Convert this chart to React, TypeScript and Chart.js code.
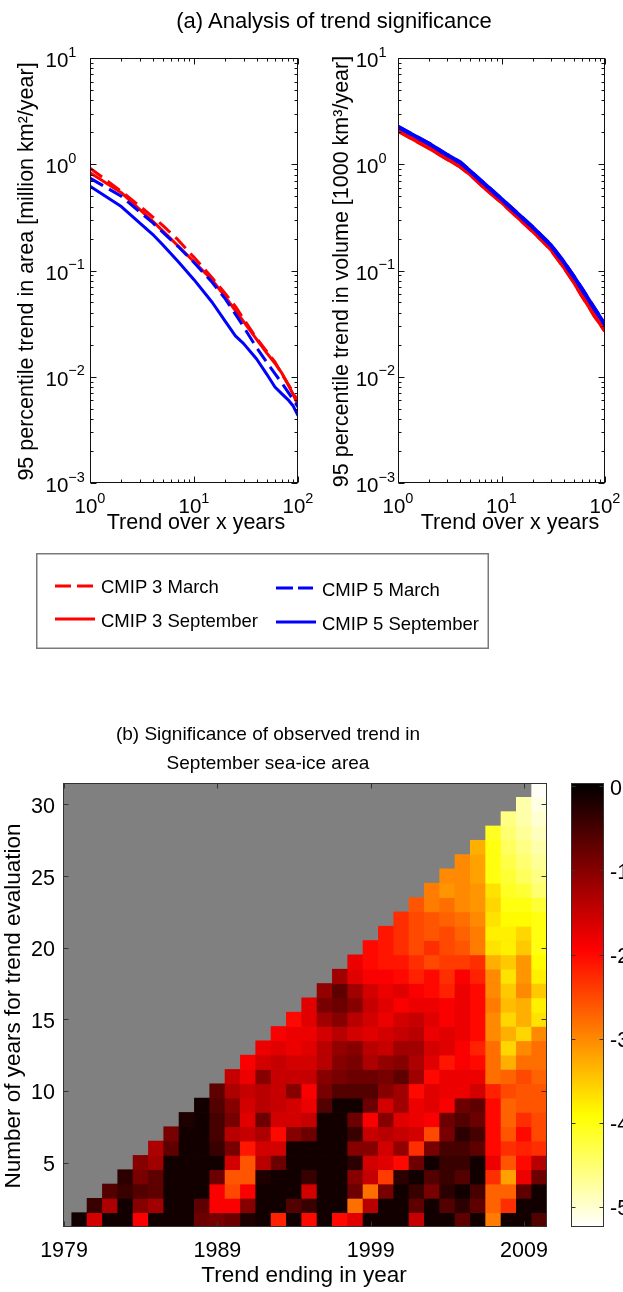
import React, { useEffect, useRef } from "react";
import { Chart, registerables } from "chart.js";

Chart.register(...registerables);

const FONT = "'Liberation Sans', Arial, Helvetica, sans-serif";

// ---------------- Panel (a) data ----------------
const trendYears = [1, 2, 3, 4, 5, 7, 10, 15, 20, 25, 30, 40, 50, 60, 70, 80, 90, 100];
const areaCmip3March = [0.92, 0.555, 0.405, 0.32, 0.266, 0.195, 0.133, 0.085, 0.0605, 0.046, 0.035, 0.023, 0.0173, 0.0138, 0.0106, 0.0086, 0.0071, 0.0058];
const areaCmip3September = [0.83, 0.54, 0.377, 0.292, 0.236, 0.171, 0.121, 0.081, 0.0564, 0.042, 0.033, 0.0225, 0.0168, 0.0134, 0.0108, 0.0085, 0.0068, 0.0054];
const areaCmip5March = [0.74, 0.5, 0.357, 0.282, 0.23, 0.169, 0.119, 0.077, 0.054, 0.0388, 0.0295, 0.0188, 0.0137, 0.0107, 0.0087, 0.0072, 0.0061, 0.0052];
const areaCmip5September = [0.62, 0.4, 0.281, 0.219, 0.175, 0.122, 0.082, 0.05, 0.0332, 0.0242, 0.0205, 0.0147, 0.0106, 0.008, 0.0069, 0.0061, 0.0053, 0.0043];
const volumeCmip3 = [2.07, 1.42, 1.12, 0.95, 0.8, 0.59, 0.44, 0.305, 0.235, 0.19, 0.158, 0.108, 0.078, 0.058, 0.046, 0.037, 0.0315, 0.027];
const volumeCmip5 = [2.25, 1.56, 1.22, 1.04, 0.86, 0.64, 0.47, 0.33, 0.256, 0.206, 0.173, 0.12, 0.0875, 0.0667, 0.0528, 0.043, 0.0361, 0.031];
const logXLimits = [1, 100];
const logYLimits = [0.001, 10];

// ---------------- Panel (b) data ----------------
const endYears = [1980, 1981, 1982, 1983, 1984, 1985, 1986, 1987, 1988, 1989, 1990, 1991, 1992, 1993, 1994, 1995, 1996, 1997, 1998, 1999, 2000, 2001, 2002, 2003, 2004, 2005, 2006, 2007, 2008, 2009, 2010];
const trendLengths = [1, 2, 3, 4, 5, 6, 7, 8, 9, 10, 11, 12, 13, 14, 15, 16, 17, 18, 19, 20, 21, 22, 23, 24, 25, 26, 27, 28, 29, 30, 31];
const yearTicks = [1979, 1989, 1999, 2009];
const lengthTicks = [5, 10, 15, 20, 25, 30];
const colorbarTicks = [0, -1, -2, -3, -4, -5];
const colorLimits = [-5.24, 0.04];
const yearAxisLimits = [1978.93, 2010.5];
const lengthAxisLimits = [0.5, 31.5];
// row i = trend length trendLengths[i]; first value belongs to endYears[i]
const significanceRows = [
  [-0.1, -1.6, -0.1, -0.1, -1.9, -0.1, -0.1, -0.1, -0.8, -0.9, -0.8, -0.2, -0.1, -2.2, -0.1, -2.0, -0.1, -2.0, -1.7, -0.1, -0.1, -0.1, -1.5, -0.1, -0.1, -0.7, -0.1, -2.9, -0.1, -0.1, -0.6],
  [-0.4, -1.3, -0.1, -1.0, -1.2, -0.1, -0.1, -0.7, -1.9, -1.9, -1.0, -0.1, -0.1, -0.6, -0.4, -0.1, -0.1, -2.8, -1.4, -0.1, -0.1, -0.7, -0.1, -0.6, -0.3, -0.7, -2.7, -2.3, -0.1, -0.1],
  [-0.6, -0.4, -0.6, -0.7, -0.1, -0.1, -0.1, -1.9, -2.5, -1.9, -0.1, -0.1, -0.1, -1.6, -0.1, -0.1, -0.8, -2.8, -0.9, -0.1, -0.4, -0.9, -0.3, -0.1, -0.5, -2.7, -2.7, -0.7, -0.1],
  [-0.3, -0.9, -0.7, -0.1, -0.1, -0.1, -0.8, -2.6, -2.6, -0.2, -0.1, -0.1, -0.4, -0.1, -0.1, -1.0, -1.5, -2.4, -0.3, -0.1, -0.6, -0.4, -0.6, -0.1, -2.3, -3.2, -1.8, -0.8],
  [-1.0, -1.2, -0.1, -0.1, -0.1, -0.1, -1.6, -2.6, -1.4, -0.8, -0.1, -0.1, -0.1, -0.1, -0.3, -1.6, -1.7, -2.0, -0.8, -0.1, -0.4, -0.4, -0.1, -1.8, -2.6, -2.0, -1.4],
  [-1.3, -0.7, -0.1, -0.1, -0.4, -0.9, -2.1, -1.6, -1.6, -0.1, -0.1, -0.1, -0.1, -1.0, -1.0, -1.6, -1.1, -2.3, -0.9, -0.5, -0.5, -0.7, -2.0, -2.3, -2.2, -2.3],
  [-0.9, -0.1, -0.1, -0.5, -1.4, -1.5, -1.3, -2.0, -1.0, -0.8, -0.1, -0.1, -0.4, -1.5, -1.4, -1.5, -1.6, -2.5, -0.9, -0.3, -0.5, -2.0, -2.6, -2.0, -2.5],
  [-0.2, -0.1, -0.5, -0.9, -1.7, -0.8, -1.6, -1.6, -1.5, -0.1, -0.1, -0.8, -1.9, -1.0, -1.7, -1.8, -1.9, -0.8, -0.6, -0.8, -2.0, -2.7, -2.3, -2.5],
  [-0.1, -0.6, -1.0, -1.6, -1.4, -1.5, -1.6, -1.8, -0.6, -0.1, -0.1, -0.8, -1.6, -1.2, -1.8, -1.7, -1.9, -0.8, -0.7, -2.0, -2.7, -2.6, -2.6],
  [-0.7, -1.3, -1.5, -1.4, -1.5, -1.0, -1.9, -0.9, -0.6, -0.6, -0.6, -1.0, -1.2, -2.0, -1.7, -1.8, -1.8, -1.6, -2.2, -2.5, -2.6, -2.6],
  [-1.5, -1.8, -1.0, -1.5, -1.5, -1.5, -1.0, -0.9, -0.8, -0.8, -0.9, -0.7, -1.2, -2.0, -1.8, -1.8, -1.8, -2.8, -2.7, -2.5, -2.7],
  [-1.9, -1.6, -1.5, -1.6, -1.6, -1.4, -1.0, -0.9, -1.3, -1.1, -1.0, -1.3, -1.7, -2.1, -1.9, -2.0, -2.8, -3.3, -2.8, -2.8],
  [-1.8, -1.7, -1.8, -1.7, -1.4, -1.1, -1.0, -1.4, -1.5, -1.2, -1.2, -1.6, -1.7, -1.9, -2.2, -2.8, -3.6, -3.0, -2.8],
  [-1.9, -1.8, -1.8, -1.6, -1.4, -1.6, -1.7, -1.6, -1.5, -1.4, -1.8, -1.7, -1.8, -2.0, -3.0, -3.3, -3.6, -3.0],
  [-2.0, -1.7, -1.2, -1.0, -1.4, -1.6, -1.8, -1.6, -1.5, -1.7, -1.9, -1.8, -2.0, -3.0, -3.6, -3.3, -3.7],
  [-1.7, -0.9, -0.8, -1.0, -1.5, -1.7, -1.9, -1.8, -1.8, -1.9, -1.8, -2.0, -2.9, -3.4, -3.3, -3.8],
  [-1.1, -0.7, -1.2, -1.6, -1.8, -1.7, -1.9, -2.0, -2.2, -1.8, -2.0, -3.0, -3.5, -3.0, -3.5],
  [-1.2, -1.7, -1.9, -1.9, -2.0, -2.2, -2.0, -2.3, -1.9, -2.2, -3.0, -3.7, -3.1, -3.8],
  [-1.8, -2.0, -2.1, -2.1, -2.3, -2.5, -2.4, -2.4, -2.3, -3.3, -3.5, -3.1, -3.9],
  [-2.0, -2.1, -2.3, -2.5, -2.3, -2.5, -2.6, -2.9, -3.7, -3.8, -3.5, -4.0],
  [-2.1, -2.3, -2.5, -2.6, -2.5, -2.7, -2.9, -3.8, -3.8, -3.6, -4.0],
  [-2.3, -2.5, -2.6, -2.7, -2.8, -3.0, -3.7, -3.9, -3.9, -4.0],
  [-2.6, -2.9, -2.8, -3.0, -3.1, -3.6, -4.0, -4.0, -4.2],
  [-2.9, -3.1, -3.0, -3.1, -3.7, -4.1, -4.2, -4.5],
  [-3.0, -3.0, -3.2, -4.0, -4.2, -4.4, -4.6],
  [-3.0, -3.2, -4.0, -4.3, -4.5, -4.7],
  [-3.3, -4.0, -4.4, -4.6, -4.8],
  [-4.1, -4.5, -4.7, -4.9],
  [-4.6, -4.8, -5.0],
  [-4.8, -5.1],
  [-5.2],
];

// ---------------- helpers ----------------
const RED = "rgb(255,0,0)";
const BLUE = "rgb(0,0,255)";

function hotColor(v: number): string {
  const t = Math.min(1, Math.max(0, (colorLimits[1] - v) / (colorLimits[1] - colorLimits[0])));
  const r = Math.min(1, t / 0.375);
  const g = Math.min(1, Math.max(0, (t - 0.375) / 0.375));
  const b = Math.min(1, Math.max(0, (t - 0.75) / 0.25));
  return `rgb(${Math.round(r * 255)},${Math.round(g * 255)},${Math.round(b * 255)})`;
}

function lineDataset(label: string, values: number[], color: string, dashed: boolean, width: number, order: number) {
  return {
    label,
    data: trendYears.map((x, i) => ({ x, y: values[i] })),
    borderColor: color,
    backgroundColor: color,
    borderWidth: width,
    borderDash: dashed ? [15, 7] : [],
    borderJoinStyle: "round",
    pointRadius: 0,
    tension: 0,
    fill: false,
    order,
  };
}

function logAxesPlugin(deco: any) {
  return {
    id: "logAxesDeco",
    afterDraw(chart: any) {
      const ctx = chart.ctx;
      const xs = chart.scales.x;
      const ys = chart.scales.y;
      const { left, right, top, bottom } = chart.chartArea;
      const L = Math.round(left) + 0.5;
      const R = Math.round(right) - 0.5;
      const T = Math.round(top) + 0.5;
      const B = Math.round(bottom) - 0.5;
      ctx.save();
      ctx.strokeStyle = "#111";
      ctx.lineWidth = 1;
      ctx.strokeRect(L, T, R - L, B - T);
      ctx.beginPath();
      const decs = (mn: number, mx: number) => {
        const out: number[] = [];
        for (let e = Math.round(Math.log10(mn)); e <= Math.round(Math.log10(mx)); e++) out.push(e);
        return out;
      };
      const xDec = decs(xs.min, xs.max);
      const yDec = decs(ys.min, ys.max);
      xDec.forEach((e) => {
        for (let k = 1; k <= 9; k++) {
          const v = k * Math.pow(10, e);
          if (v > xs.max * 1.0001) break;
          const px = Math.round(xs.getPixelForValue(v)) + 0.5;
          const len = k === 1 ? 6 : 3;
          ctx.moveTo(px, B); ctx.lineTo(px, B - len);
          ctx.moveTo(px, T); ctx.lineTo(px, T + len);
        }
      });
      yDec.forEach((e) => {
        for (let k = 1; k <= 9; k++) {
          const v = k * Math.pow(10, e);
          if (v > ys.max * 1.0001) break;
          const py = Math.round(ys.getPixelForValue(v)) + 0.5;
          const len = k === 1 ? 6 : 3;
          ctx.moveTo(L, py); ctx.lineTo(L + len, py);
          ctx.moveTo(R, py); ctx.lineTo(R - len, py);
        }
      });
      ctx.stroke();

      const baseFont = `20.5px ${FONT}`;
      const expFont = `14.5px ${FONT}`;
      const expText = (e: number) => (e < 0 ? "\u2212" + -e : String(e));
      ctx.fillStyle = "#000";
      ctx.textBaseline = "alphabetic";
      xDec.forEach((e) => {
        const px = xs.getPixelForValue(Math.pow(10, e));
        ctx.font = baseFont;
        const wb = ctx.measureText("10").width;
        ctx.font = expFont;
        const we = ctx.measureText(expText(e)).width;
        const x0 = px - (wb + we) / 2;
        ctx.textAlign = "left";
        ctx.font = baseFont;
        ctx.fillText("10", x0, B + 30);
        ctx.font = expFont;
        ctx.fillText(expText(e), x0 + wb, B + 20);
      });
      yDec.forEach((e) => {
        const py = ys.getPixelForValue(Math.pow(10, e));
        const xr = left - deco.yLabelGap;
        ctx.font = baseFont;
        ctx.textAlign = "right";
        ctx.fillText("10", xr, py + 9);
        ctx.font = expFont;
        ctx.textAlign = "left";
        ctx.fillText(expText(e), xr, py - 1.5);
      });

      ctx.font = `21.5px ${FONT}`;
      ctx.textAlign = "center";
      ctx.fillText(deco.xTitle, deco.xTitleX, B + 46);
      ctx.save();
      ctx.translate(deco.yTitleX, (top + bottom) / 2 + 1);
      ctx.rotate(-Math.PI / 2);
      ctx.fillText(deco.yTitle, 0, 0);
      ctx.restore();
      ctx.restore();
    },
  };
}

function makeLogConfig(datasets: any[], deco: any) {
  return {
    type: "line",
    data: { datasets },
    options: {
      responsive: false,
      animation: false,
      devicePixelRatio: 1,
      events: [],
      layout: { padding: { left: 0, top: deco.padTop, right: deco.padRight, bottom: 0 } },
      plugins: { legend: { display: false }, tooltip: { enabled: false }, title: { display: false } },
      scales: {
        x: {
          type: "logarithmic",
          min: logXLimits[0],
          max: logXLimits[1],
          grid: { display: false },
          border: { display: false },
          ticks: { display: false },
          afterFit: (s: any) => { s.height = deco.xAxisHeight; },
        },
        y: {
          type: "logarithmic",
          min: logYLimits[0],
          max: logYLimits[1],
          grid: { display: false },
          border: { display: false },
          ticks: { display: false },
          afterFit: (s: any) => { s.width = deco.yAxisWidth; },
        },
      },
    },
    plugins: [logAxesPlugin(deco)],
  };
}

function buildAreaChart() {
  return makeLogConfig(
    [
      lineDataset("CMIP 3 March", areaCmip3March, RED, true, 3, 4),
      lineDataset("CMIP 3 September", areaCmip3September, RED, false, 3, 3),
      lineDataset("CMIP 5 March", areaCmip5March, BLUE, true, 3, 2),
      lineDataset("CMIP 5 September", areaCmip5September, BLUE, false, 3, 1),
    ],
    {
      padTop: 18, padRight: 32, xAxisHeight: 67, yAxisWidth: 90, yLabelGap: 21.7,
      yTitle: "95 percentile trend in area [million km\u00B2/year]", yTitleX: 33,
      xTitle: "Trend over x years", xTitleX: 196,
    }
  );
}

function buildVolumeChart() {
  return makeLogConfig(
    [
      lineDataset("CMIP 3 March", volumeCmip3, RED, true, 4, 4),
      lineDataset("CMIP 3 September", volumeCmip3, RED, false, 4, 3),
      lineDataset("CMIP 5 March", volumeCmip5, BLUE, true, 4, 2),
      lineDataset("CMIP 5 September", volumeCmip5, BLUE, false, 4, 1),
    ],
    {
      padTop: 18, padRight: 18, xAxisHeight: 67, yAxisWidth: 93, yLabelGap: 19.5,
      yTitle: "95 percentile trend in volume [1000 km\u00B3/year]", yTitleX: 43,
      xTitle: "Trend over x years", xTitleX: 205,
    }
  );
}

function buildHeatmap() {
  const cells: any[] = [];
  const colors: string[] = [];
  significanceRows.forEach((row, i) => {
    const n = trendLengths[i];
    row.forEach((v, j) => {
      cells.push({ x: endYears[i + j], y: [n - 0.5, n + 0.5] });
      colors.push(hotColor(v));
    });
  });
  const deco = {
    id: "heatDeco",
    beforeDatasetsDraw(chart: any) {
      const { left, right, top, bottom } = chart.chartArea;
      const ctx = chart.ctx;
      ctx.save();
      ctx.fillStyle = "#808080";
      ctx.fillRect(left, top, right - left, bottom - top);
      ctx.restore();
    },
    afterDraw(chart: any) {
      const ctx = chart.ctx;
      const xs = chart.scales.x;
      const ys = chart.scales.y;
      const { left, right, top, bottom } = chart.chartArea;
      const L = Math.round(left) + 0.5;
      const R = Math.round(right) - 0.5;
      const T = Math.round(top) + 0.5;
      const B = Math.round(bottom) - 0.5;
      ctx.save();
      ctx.strokeStyle = "#333";
      ctx.lineWidth = 1;
      ctx.strokeRect(L, T, R - L, B - T);
      ctx.beginPath();
      xs.ticks.forEach((t: any) => {
        const px = Math.round(xs.getPixelForValue(t.value)) + 0.5;
        ctx.moveTo(px, B); ctx.lineTo(px, B - 5);
        ctx.moveTo(px, T); ctx.lineTo(px, T + 5);
      });
      ys.ticks.forEach((t: any) => {
        const py = Math.round(ys.getPixelForValue(t.value)) + 0.5;
        ctx.moveTo(L, py); ctx.lineTo(L + 5, py);
        ctx.moveTo(R, py); ctx.lineTo(R - 5, py);
      });
      ctx.stroke();
      ctx.fillStyle = "#000";
      ctx.textBaseline = "alphabetic";
      ctx.font = `21.5px ${FONT}`;
      ctx.textAlign = "center";
      xs.ticks.forEach((t: any) => {
        ctx.fillText(String(t.value), xs.getPixelForValue(t.value), B + 30.5);
      });
      ctx.textAlign = "right";
      ys.ticks.forEach((t: any) => {
        ctx.fillText(String(t.value), left - 8, ys.getPixelForValue(t.value) + 8.5);
      });
      ctx.font = `22.5px ${FONT}`;
      ctx.textAlign = "center";
      ctx.fillText("Trend ending in year", 304, B + 55.5);
      ctx.save();
      ctx.translate(20, (top + bottom) / 2 + 1);
      ctx.rotate(-Math.PI / 2);
      ctx.fillText("Number of years for trend evaluation", 0, 0);
      ctx.restore();
      ctx.restore();
    },
  };
  return {
    type: "bar",
    data: {
      datasets: [
        {
          data: cells,
          backgroundColor: colors,
          borderWidth: 0,
          barPercentage: 1,
          categoryPercentage: 1,
        },
      ],
    },
    options: {
      responsive: false,
      animation: false,
      devicePixelRatio: 1,
      events: [],
      layout: { padding: { left: 0, top: 13, right: 13, bottom: 0 } },
      plugins: { legend: { display: false }, tooltip: { enabled: false } },
      scales: {
        x: {
          type: "linear",
          min: yearAxisLimits[0],
          max: yearAxisLimits[1],
          offset: false,
          grid: { display: false },
          border: { display: false },
          ticks: { display: false },
          afterBuildTicks: (s: any) => { s.ticks = yearTicks.map((v) => ({ value: v })); },
          afterFit: (s: any) => { s.height = 65; },
        },
        y: {
          type: "linear",
          min: lengthAxisLimits[0],
          max: lengthAxisLimits[1],
          grid: { display: false },
          border: { display: false },
          ticks: { display: false },
          afterBuildTicks: (s: any) => { s.ticks = lengthTicks.map((v) => ({ value: v })); },
          afterFit: (s: any) => { s.width = 63; },
        },
      },
    },
    plugins: [deco],
  };
}

function buildColorbar() {
  const deco = {
    id: "cbarDeco",
    afterDraw(chart: any) {
      const ctx = chart.ctx;
      const ys = chart.scales.y;
      const { left, right } = chart.chartArea;
      const yTop = ys.getPixelForValue(colorLimits[1]);
      const yBot = ys.getPixelForValue(colorLimits[0]);
      ctx.save();
      const g = ctx.createLinearGradient(0, yTop, 0, yBot);
      g.addColorStop(0, "#000000");
      g.addColorStop(0.375, "#ff0000");
      g.addColorStop(0.75, "#ffff00");
      g.addColorStop(1, "#ffffff");
      ctx.fillStyle = g;
      ctx.fillRect(left, yTop, right - left, yBot - yTop);
      const L = Math.round(left) + 0.5;
      const R = Math.round(right) - 0.5;
      const T = Math.round(yTop) + 0.5;
      const B = Math.round(yBot) - 0.5;
      ctx.strokeStyle = "#333";
      ctx.lineWidth = 1;
      ctx.strokeRect(L, T, R - L, B - T);
      ctx.beginPath();
      ys.ticks.forEach((t: any) => {
        const py = Math.round(ys.getPixelForValue(t.value)) + 0.5;
        ctx.moveTo(L, py); ctx.lineTo(L + 4, py);
        ctx.moveTo(R, py); ctx.lineTo(R - 4, py);
      });
      ctx.stroke();
      ctx.fillStyle = "#000";
      ctx.font = `21.5px ${FONT}`;
      ctx.textAlign = "left";
      ctx.textBaseline = "alphabetic";
      ys.ticks.forEach((t: any) => {
        ctx.fillText(String(t.value), right + 6, ys.getPixelForValue(t.value) + 8.5);
      });
      ctx.restore();
    },
  };
  return {
    type: "line",
    data: { datasets: [] },
    options: {
      responsive: false,
      animation: false,
      devicePixelRatio: 1,
      events: [],
      layout: { padding: { left: 11, top: 13, right: 19, bottom: 65 } },
      plugins: { legend: { display: false }, tooltip: { enabled: false } },
      scales: {
        x: {
          type: "linear", min: 0, max: 1,
          grid: { display: false }, border: { display: false }, ticks: { display: false },
          afterFit: (s: any) => { s.height = 0; },
        },
        y: {
          type: "linear", position: "right",
          min: colorLimits[0], max: colorLimits[1],
          grid: { display: false }, border: { display: false }, ticks: { display: false },
          afterBuildTicks: (s: any) => { s.ticks = colorbarTicks.map((v) => ({ value: v })); },
          afterFit: (s: any) => { s.width = 0; },
        },
      },
    },
    plugins: [deco],
  };
}

function ChartCanvas(props: { left: number; top: number; width: number; height: number; build: () => any }) {
  const ref = useRef<HTMLCanvasElement | null>(null);
  useEffect(() => {
    if (!ref.current) return;
    const chart = new Chart(ref.current, props.build());
    return () => chart.destroy();
  }, []);
  return (
    <canvas
      ref={ref}
      width={props.width}
      height={props.height}
      style={{ position: "absolute", left: props.left, top: props.top, width: props.width, height: props.height }}
    />
  );
}

export default function App() {
  const legendFont = { fontFamily: FONT, fontSize: 18.5, fill: "#000" } as any;
  return (
    <div style={{ position: "absolute", left: 0, top: 0, width: 623, height: 1292, background: "#fff", overflow: "hidden" }}>
      <ChartCanvas left={0} top={40} width={330} height={510} build={buildAreaChart} />
      <ChartCanvas left={305} top={40} width={318} height={510} build={buildVolumeChart} />
      <ChartCanvas left={0} top={770} width={560} height={522} build={buildHeatmap} />
      <ChartCanvas left={560} top={770} width={63} height={522} build={buildColorbar} />
      <svg width={623} height={1292} style={{ position: "absolute", left: 0, top: 0, pointerEvents: "none" }}>
        <text x={334} y={27.5} textAnchor="middle" fontFamily={FONT} fontSize={22} fill="#000">
          (a) Analysis of trend significance
        </text>
        <rect x={36.75} y={553.75} width={451.5} height={94.5} fill="#fff" stroke="#7a7a7a" strokeWidth={1.5} />
        <line x1={55} y1={586} x2={93} y2={586} stroke={RED} strokeWidth={3} strokeDasharray="16 6" />
        <line x1={55} y1={619} x2={95} y2={619} stroke={RED} strokeWidth={3} />
        <line x1={276} y1={588} x2={313} y2={588} stroke={BLUE} strokeWidth={3} strokeDasharray="17 5" />
        <line x1={276} y1={622} x2={316} y2={622} stroke={BLUE} strokeWidth={3} />
        <text x={101} y={593} {...legendFont}>CMIP 3 March</text>
        <text x={101} y={627} {...legendFont}>CMIP 3 September</text>
        <text x={322} y={596} {...legendFont}>CMIP 5 March</text>
        <text x={322} y={630} {...legendFont}>CMIP 5 September</text>
        <text x={268} y={739.5} textAnchor="middle" fontFamily={FONT} fontSize={19} fill="#000">
          (b) Significance of observed trend in
        </text>
        <text x={268} y={768.5} textAnchor="middle" fontFamily={FONT} fontSize={19} fill="#000">
          September sea-ice area
        </text>
      </svg>
    </div>
  );
}
